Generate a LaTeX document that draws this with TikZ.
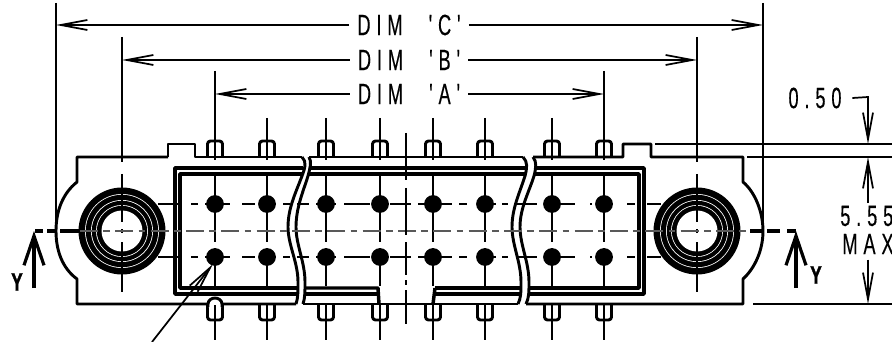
\documentclass[tikz,border=0pt]{standalone}
\usepackage{fontspec}
\usetikzlibrary{arrows.meta}
\newfontfamily\dimfont[FakeStretch=0.62,LetterSpace=20,WordSpace=2.4,FakeBold=0.3]{Liberation Sans}
\newfontfamily\yfont[FakeStretch=0.68,FakeBold=1.5]{Liberation Sans Bold}
\begin{document}
\begin{tikzpicture}[x=0.75pt,y=-0.75pt,
  heavy/.style={line width=2.6pt,line join=round},
  body/.style={line width=2.2pt,line join=round},
  thin/.style={line width=1.3pt},
  dimline/.style={line width=1.3pt,-{Straight Barb[length=20pt,width=7.5pt,line width=1.3pt]}},
  secline/.style={line width=2.4pt,-{Straight Barb[length=22pt,width=15pt,line width=2.4pt]}},
  every node/.style={inner sep=0pt,font=\dimfont\fontsize{22pt}{23pt}\selectfont}]
  \useasboundingbox (0,0) rectangle (892,342);

  \draw[body] (168,157)--(77,157)--(77,182) .. controls (62,194) and (56,212) .. (56,231) .. controls (56,250) and (62,268) .. (77,279)--(77,304)--(296,304);
  \draw[body] (168,157)--(168,144)--(195,144)--(195,157)--(302,157);
  \draw[body] (303,304)--(518,304);
  \draw[body] (309,157)--(523,157);
  \draw[body] (533,157)--(623,157)--(623,144)--(651,144)--(651,157)--(743,157)--(743,182) .. controls (755,192) and (763,212) .. (763,231) .. controls (763,250) and (755,268) .. (743,279)--(743,304)--(526,304);

  \draw[body] (302,157) .. controls (307,162) and (305,168) .. (302,176) .. controls (296,192) and (288,208) .. (288,227) .. controls (288,245) and (298,262) .. (298,282) .. controls (298,292) and (298,298) .. (296,304);
  \draw[body] (309,157) .. controls (312,162) and (310,168) .. (308,176) .. controls (303,192) and (296,208) .. (296,227) .. controls (296,245) and (305,262) .. (305,282) .. controls (305,292) and (305,298) .. (303,304);
  \draw[body] (523,157) .. controls (528,162) and (527,168) .. (525,176) .. controls (520,192) and (512,208) .. (512,227) .. controls (512,245) and (521,262) .. (521,282) .. controls (521,292) and (521,298) .. (518,304);
  \draw[body] (533,157) .. controls (537,162) and (536,168) .. (534,176) .. controls (529,192) and (520,208) .. (520,227) .. controls (520,245) and (529,262) .. (529,282) .. controls (529,292) and (529,298) .. (526,304);

  \draw[heavy] (303,168)--(175,168)--(175,294)--(297,294);
  \draw[heavy] (302,174)--(180,174)--(180,288)--(297,288);
  \draw[heavy] (309,168)--(526,168);
  \draw[heavy] (308,174)--(525,174);
  \draw[heavy] (305,294)--(378,294);
  \draw[heavy] (305,288)--(378,288)--(379,304);
  \draw[heavy] (435,294)--(521,294);
  \draw[heavy] (435,288)--(521,288);
  \draw[heavy] (435,288)--(433,304);
  \draw[heavy] (536,168)--(644,168)--(644,294)--(529,294);
  \draw[heavy] (535,174)--(639,174)--(639,288)--(529,288);

  \foreach \holex in {122,697}{
    \fill (\holex,231) circle (43.5);
    \fill[white] (\holex,231) circle (37);
    \fill (\holex,231) circle (36.2);
    \fill[white] (\holex,231) circle (31);
    \fill (\holex,231) circle (30.2);
    \fill[white] (\holex,231) circle (26);
    \fill (\holex,231) circle (25.2);
    \fill[white] (\holex,231) circle (20.5);
    \draw[thin] (\holex,37)--(\holex,162);
    \draw[thin] (\holex,174)--(\holex,222);
    \draw[thin] (\holex,229)--(\holex,233);
    \draw[thin] (\holex,242)--(\holex,292);
  }

  \foreach \pinx in {215,267,326,380,433,485,552,604}{
    \draw[body] (\pinx-7.5,157)--(\pinx-7.5,144) to[out=90,in=180] (\pinx-4.5,141)--(\pinx+4.5,141) to[out=0,in=90] (\pinx+7.5,144)--(\pinx+7.5,157);
    \draw[body] (\pinx-7.5,304)--(\pinx-7.5,317) to[out=-90,in=180] (\pinx-4.5,320)--(\pinx+4.5,320) to[out=0,in=-90] (\pinx+7.5,317)--(\pinx+7.5,304);
    \draw[thin] (\pinx,118)--(\pinx,160);
    \draw[thin] (\pinx,175)--(\pinx,242);
    \draw[thin] (\pinx,248)--(\pinx,286);
    \draw[thin] (\pinx,305)--(\pinx,340);
    \fill (\pinx,204) circle (8.9);
    \fill (\pinx,257) circle (8.9);
  }
  \draw[thin] (215,71)--(215,118);
  \draw[thin] (604,71)--(604,118);
  \draw[body,fill=white] (208,307)--(208,304) .. controls (208,300) and (212,298) .. (215,298) .. controls (218,298) and (222,300) .. (222,304)--(222,307);
  \draw[thin] (215,305)--(215,340);

  \foreach \rowy in {204,257}{
    \foreach \xa/\xb in {158/180,191/198,205/230,242/255,283/290,297/309,316/336,344/370,390/411,418/452,459/467,493/496,502/508,516/537,561/575,590/592,627/635,647/661}
      \draw[thin] (\xa,\rowy)--(\xb,\rowy);
  }

  \draw[line width=1pt,gray!70!black,dash pattern=on 13.5pt off 4pt on 5pt off 4pt] (80,231)--(750,231);
  \foreach \ya/\yb in {133/180,188/235,242/275,280/285,290/324}
    \draw[thin] (406,\ya)--(406,\yb);

  \foreach \xa/\xb in {35/43,47/55,60/80,750/763,767/780,787/796}
    \draw[line width=2.4pt] (\xa,231)--(\xb,231);

  \node (dimc) at (409,25) [inner xsep=6pt]{DIM 'C'};
  \node (dimb) at (409,60) [inner xsep=6pt]{DIM 'B'};
  \node (dima) at (409,94) [inner xsep=6pt]{DIM 'A'};
  \node (dzero) at (815,98) [inner xsep=8pt]{0.50};
  \node (dfive) at (840,216) [anchor=west]{5.55};
  \node (dmax) at (868,244) [inner ysep=4pt]{MAX};
  \node (yleft) at (17,282) [font=\yfont\fontsize{19pt}{20pt}\selectfont]{Y};
  \node (yright) at (816,275) [font=\yfont\fontsize{19pt}{20pt}\selectfont]{Y};

  \coordinate (cl) at (56,25);
  \coordinate (cr) at (763,25);
  \coordinate (bl) at (122,60);
  \coordinate (br) at (697,60);
  \coordinate (al) at (215,94);
  \coordinate (ar) at (604,94);
  \coordinate (zk) at (868,97);
  \coordinate (zt) at (868,144);
  \coordinate (ft) at (868,157);
  \coordinate (fb) at (868,304);
  \coordinate (fu) at (868,203);
  \coordinate (pt) at (213,264);
  \coordinate (pe) at (152,342);

  \draw[line width=1.7pt] (56,3)--(56,229);
  \draw[line width=1.7pt] (763,3)--(763,229);
  \draw[dimline] (dimc.west)--(cl);
  \draw[dimline] (dimc.east)--(cr);
  \draw[dimline] (dimb.west)--(bl);
  \draw[dimline] (dimb.east)--(br);
  \draw[dimline] (dima.west)--(al);
  \draw[dimline] (dima.east)--(ar);
  \draw[dimline] (dzero.east)--(zk)--(zt);
  \draw[dimline] (fu)--(ft);
  \draw[dimline] (dmax.south)--(fb);

  \draw[thin] (655,144)--(892,144);
  \draw[thin] (747,157)--(892,157);
  \draw[thin] (753,304)--(892,304);

  \draw[dimline] (pe)--(pt);
  \draw[secline] (34,288)--(34,231);
  \draw[secline] (796,288)--(796,231);
\end{tikzpicture}
\end{document}
